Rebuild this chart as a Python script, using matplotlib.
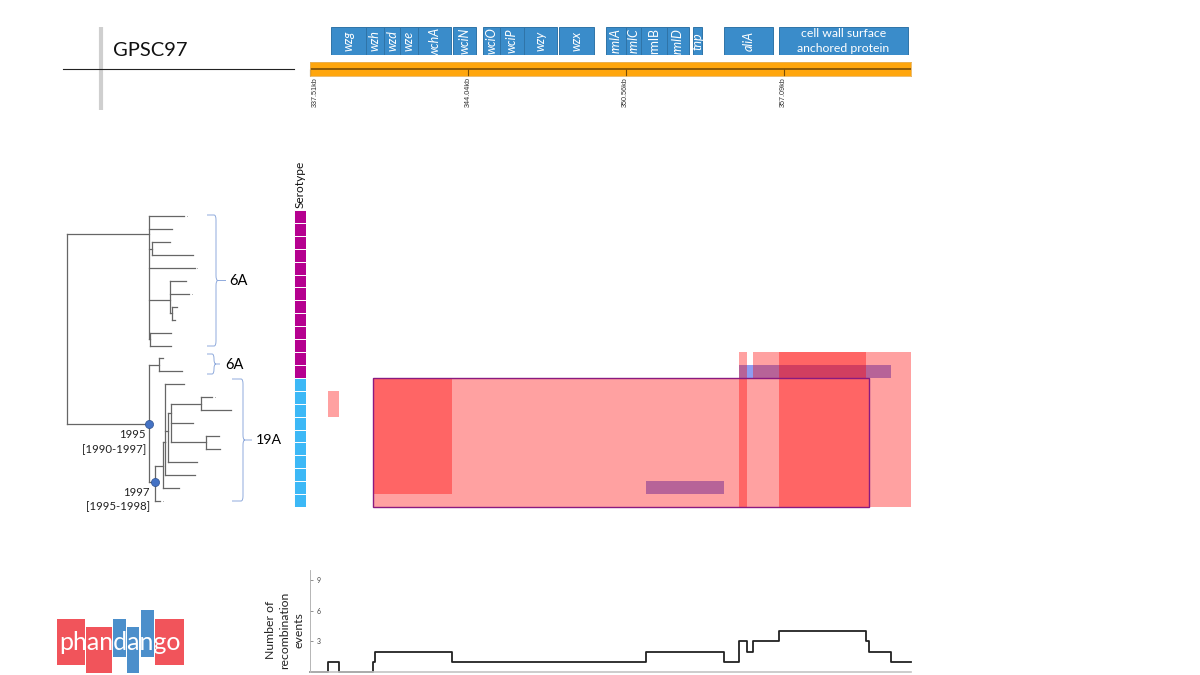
"""GPSC97: arbol, bloques de recombinacion y region cps (estilo phandango)."""

import matplotlib
matplotlib.use("Agg")
import matplotlib.pyplot as plt
from matplotlib.patches import PathPatch, Rectangle
from matplotlib.path import Path
from matplotlib.transforms import ScaledTranslation

plt.rcParams["font.family"] = ["Lato", "DejaVu Sans"]

W, H = 1200, 675
KB_MIN, KB_MAX = 337.51, 362.35

# genes: nombre, inicio, fin (kb)
GENE_NAMES = ["wzg", "wzh", "wzd", "wze", "wchA", "wciN", "wciO", "wciP", "wzy", "wzx",
              "rmlA", "rmlC", "rmlB", "rmlD", "tnp", "aliA"]
GENE_START = [338.38, 339.82, 340.57, 341.23, 341.97, 343.42, 344.66, 345.36, 346.35, 347.80,
              349.74, 350.57, 351.19, 352.26, 353.34, 354.62]
GENE_END = [339.82, 340.57, 341.23, 341.97, 343.34, 344.39, 345.36, 346.35, 347.72, 349.25,
            350.57, 351.19, 352.26, 353.17, 353.71, 356.65]
SURFACE_GENE = (356.89, 362.23)
GENOME_TICKS = [337.51, 344.04, 350.56, 357.09]
GENOME_LABELS = ["337.51kb", "344.04kb", "350.56kb", "357.09kb"]

# serotipo por fila del arbol
SEROTYPE = ["6A"] * 13 + ["19A"] * 10

# bloques de recombinacion: kb inicio, kb fin, fila inicio, fila fin
RED_BLOCKS = [
    (338.27, 338.71, 14, 16),
    (340.13, 360.61, 13, 23),
    (340.13, 343.38, 13, 22),
    (355.24, 355.57, 11, 23),
    (355.82, 362.35, 11, 13),
    (356.89, 360.49, 11, 13),
    (356.89, 360.61, 13, 23),
    (360.61, 362.35, 13, 23),
]
BLUE_BLOCKS = [
    (355.24, 361.52, 12, 13),
    (351.40, 354.62, 21, 22),
]
OUTLINE_BLOCK = (340.13, 360.61, 13, 23)

# numero de eventos de recombinacion (escalones)
EVENT_KB = [337.51, 338.27, 338.71, 340.13, 340.20, 343.38, 351.40, 354.62, 355.24,
            355.57, 355.82, 356.89, 360.49, 360.61, 361.52, 362.35]
EVENT_N = [0, 1, 0, 1, 2, 1, 2, 1, 3, 2, 3, 4, 3, 2, 1, 1]

# arbol: horizontales (x0, x1, fila) y verticales (x, fila0, fila1)
TREE_H = [
    (66.5, 149, 1.35), (66.5, 149, 16.1),
    (149, 184, 0), (149, 172, 1), (149, 152, 2.5), (152, 170, 2), (152, 192.5, 3),
    (149, 195, 4), (149, 170, 6.5), (170, 186, 5), (170, 189, 6), (170, 172, 7.5),
    (172, 177, 7), (172, 175, 8), (149, 150, 9.5), (150, 171, 9), (150, 171, 10),
    (149, 159, 11.5), (159, 163, 11), (159, 182, 12),
    (149, 155, 20.6), (155, 163, 19.3), (155, 160, 22),
    (163, 164.5, 17.5), (164.5, 184, 13), (164.5, 168, 16.6), (168, 171, 15.2),
    (171, 201, 14.5), (201, 212, 14), (201, 231, 15), (171, 192.5, 16),
    (171, 206, 17.5), (206, 219, 17), (206, 220, 18),
    (168, 197, 19), (165, 195, 20), (163, 179, 21),
]
TREE_V = [
    (66.5, 1.35, 16.1), (149, 0, 9.5), (152, 2, 3), (170, 5, 7.5), (172, 7, 8),
    (150, 9, 10), (149, 11.5, 20.6), (159, 11, 12), (155.3, 19.3, 22),
    (163, 17.5, 21), (164.5, 13, 17.5), (165, 17.5, 20), (168, 15.2, 19), (171, 14.5, 17.5),
    (201, 14, 15), (206, 17, 18),
]
TREE_NODES_X = [149, 155]
TREE_NODES_ROW = [16.1, 20.6]
TREE_DOTS_X = [187, 197, 192, 215, 163]
TREE_DOTS_ROW = [0, 4, 6, 14, 22]

GEN_BLUE, GEN_EDGE = "#3a8cca", "#2f74a8"
NARANJA, MARRON = "#ffa60d", "#7a4d05"
ROJO, AZUL = "#ff0000", "#1e3ce6"
SERO_COL = {"6A": "#b5008f", "19A": "#3cb8f6"}
LLAVE = "#8faadc"
GRIS = "#666666"


def panel(fig, left, top, right, bottom):
    ax = fig.add_axes([left / W, 1 - bottom / H, (right - left) / W, (bottom - top) / H])
    ax.patch.set_alpha(0)
    return ax


def llave(ax, x0, x1, tip, y0, y1):
    ym = (y0 + y1) / 2
    d = 5
    verts = [(x0, y0), (x1 - 2, y0), (x1, y0), (x1, y0 + d), (x1, ym - d), (x1, ym), (x1 + 2, ym), (tip, ym),
             (x1 + 2, ym), (x1, ym), (x1, ym + d), (x1, y1 - d), (x1, y1), (x1 - 2, y1), (x0, y1)]
    codes = [Path.MOVETO, Path.LINETO, Path.CURVE3, Path.CURVE3, Path.LINETO, Path.CURVE3, Path.CURVE3, Path.LINETO,
             Path.MOVETO, Path.CURVE3, Path.CURVE3, Path.LINETO, Path.CURVE3, Path.CURVE3, Path.LINETO]
    ax.add_patch(PathPatch(Path(verts, codes), fill=False, ec=LLAVE, lw=0.7))


def dibuja_fondo(fig):
    ax = panel(fig, 0, 0, W, H)
    ax.set_xlim(0, W)
    ax.set_ylim(H, 0)
    ax.axis("off")

    ax.plot([101, 101], [27, 110], color="#cfcfcf", lw=3, solid_capstyle="butt")
    ax.plot([63, 294], [69, 69], color="#222222", lw=0.8)
    ax.text(113, 51, "GPSC97", fontsize=14.5, va="center", color="#111111")

    llave(ax, 207, 216, 226, 215, 346)
    llave(ax, 207, 214, 220, 354, 374)
    llave(ax, 232, 243, 252, 379, 501)
    ax.text(229, 281, "6A", fontsize=10.5, va="center")
    ax.text(225, 365, "6A", fontsize=10.5, va="center")
    ax.text(256, 440, "19A", fontsize=10.2, va="center")

    ax.text(146, 435, "1995", fontsize=8.2, ha="right", va="center", color="#222222")
    ax.text(146, 450, "[1990-1997]", fontsize=8.2, ha="right", va="center", color="#222222")
    ax.text(150, 493, "1997", fontsize=8.2, ha="right", va="center", color="#222222")
    ax.text(150, 507, "[1995-1998]", fontsize=8.2, ha="right", va="center", color="#222222")

    ax.text(300, 208, "Serotype", fontsize=8.6, rotation=90, ha="center", va="bottom", color="#111111")
    ax.text(285, 630, "Number of\nrecombination\nevents", fontsize=8.8, rotation=90,
            ha="center", va="center", linespacing=1.35, color="#222222")

    # logo
    for x0, x1, y0, y1, c in [(56.7, 85, 618.7, 665, "#f1545b"), (85.7, 112, 627, 672.7, "#f1545b"),
                              (113, 126, 618.7, 656.7, "#4c8fcb"), (127, 139, 627, 672.7, "#4c8fcb"),
                              (140.7, 154, 610, 656.7, "#4c8fcb"), (155, 184, 618.7, 665, "#f1545b")]:
        ax.add_patch(Rectangle((x0, y0), x1 - x0, y1 - y0, fc=c, ec="none"))
    ax.text(120, 642, "phandango", fontsize=18, color="white", ha="center", va="center")


def dibuja_genes(fig):
    ax = panel(fig, 310, 27, 911, 55)
    ax.set_xlim(KB_MIN, KB_MAX)
    ax.set_ylim(0, 1)
    ax.axis("off")
    ax.barh(0.5, [e - s for s, e in zip(GENE_START, GENE_END)], left=GENE_START, height=1,
            color=GEN_BLUE, edgecolor=GEN_EDGE, linewidth=0.7)
    for nombre, s, e in zip(GENE_NAMES, GENE_START, GENE_END):
        ax.text((s + e) / 2, 0.5, nombre, color="white", rotation=90, ha="center", va="center",
                fontsize=9, style="normal" if nombre == "rmlB" else "italic")
    s, e = SURFACE_GENE
    ax.barh(0.5, e - s, left=s, height=1, color=GEN_BLUE, edgecolor=GEN_EDGE, linewidth=0.7)
    ax.text((s + e) / 2, 0.5, "cell wall surface\nanchored protein", color="white", ha="center",
            va="center", fontsize=8.8, linespacing=1.4)


def dibuja_genoma(fig):
    ax = panel(fig, 310, 62, 911, 76)
    ax.set_xlim(KB_MIN, KB_MAX)
    ax.set_ylim(0, 1)
    ax.set_facecolor(NARANJA)
    ax.patch.set_alpha(1)
    for sp in ("top", "left", "right", "bottom"):
        ax.spines[sp].set_color("#e9b25a")
        ax.spines[sp].set_linewidth(0.6)
    ax.axhline(0.5, color=MARRON, lw=1.2)
    ax.set_yticks([])
    ax.set_xticks(GENOME_TICKS, GENOME_LABELS, rotation=90, fontsize=5.2, family="Liberation Sans", color="#333333")
    ax.tick_params(axis="x", direction="in", length=4.8, width=0.8, color=MARRON, pad=1)
    # la primera etiqueta va corrida a la derecha
    primera = ax.get_xticklabels()[0]
    primera.set_transform(primera.get_transform() + ScaledTranslation(3.5 / 72, 0, fig.dpi_scale_trans))


def dibuja_serotipo(fig):
    ax = panel(fig, 294, 210, 306, 507)
    ax.set_xlim(0, 1)
    ax.set_ylim(len(SEROTYPE), 0)
    ax.axis("off")
    filas = [i + 0.5 for i in range(len(SEROTYPE))]
    ax.barh(filas, 1, height=1, color=[SERO_COL[s] for s in SEROTYPE], edgecolor="white", linewidth=0.7)


def dibuja_bloques(fig):
    ax = panel(fig, 310, 210, 911, 507)
    ax.set_xlim(KB_MIN, KB_MAX)
    ax.set_ylim(23, 0)
    ax.axis("off")
    for s, e, f0, f1 in BLUE_BLOCKS:
        ax.add_patch(Rectangle((s, f0), e - s, f1 - f0, fc=AZUL, alpha=0.5, ec="none"))
    for s, e, f0, f1 in RED_BLOCKS:
        ax.add_patch(Rectangle((s, f0), e - s, f1 - f0, fc=ROJO, alpha=0.37, ec="none", clip_on=False))
    s, e, f0, f1 = OUTLINE_BLOCK
    ax.add_patch(Rectangle((s, f0), e - s, f1 - f0, fill=False, ec="#8a1a80", lw=1.0, clip_on=False))


def dibuja_arbol(fig):
    ax = panel(fig, 60, 210, 290, 507)
    ax.set_xlim(60, 290)
    ax.set_ylim(22.5, -0.5)
    ax.axis("off")
    for x0, x1, f in TREE_H:
        ax.plot([x0, x1], [f, f], color=GRIS, lw=0.9, solid_capstyle="projecting")
    for x, f0, f1 in TREE_V:
        ax.plot([x, x], [f0, f1], color=GRIS, lw=0.9, solid_capstyle="projecting")
    ax.scatter(TREE_DOTS_X, TREE_DOTS_ROW, s=0.4, color="#aaaaaa", linewidths=0)
    ax.scatter(TREE_NODES_X, TREE_NODES_ROW, s=34, color="#4472c4", edgecolor="#2f528f", linewidths=0.5, zorder=5)


def dibuja_eventos(fig):
    ax = panel(fig, 310, 570, 911, 672)
    ax.set_xlim(KB_MIN, KB_MAX)
    ax.set_ylim(0, 10)
    ax.step(EVENT_KB, EVENT_N, where="post", color="#222222", lw=1.3, clip_on=False)
    for sp in ("top", "right"):
        ax.spines[sp].set_visible(False)
    ax.spines["left"].set_color("#aaaaaa")
    ax.spines["left"].set_linewidth(0.6)
    ax.spines["bottom"].set_color("#c4c4c4")
    ax.spines["bottom"].set_linewidth(1.2)
    ax.set_xticks([])
    ax.set_yticks([3, 6, 9])
    ax.tick_params(axis="y", direction="in", length=2.5, width=0.5, color="#666666", pad=-8,
                   labelsize=5, labelcolor="#444444")


def main():
    fig = plt.figure(figsize=(W / 100, H / 100), dpi=100, facecolor="white")
    dibuja_fondo(fig)
    dibuja_genes(fig)
    dibuja_genoma(fig)
    dibuja_serotipo(fig)
    dibuja_bloques(fig)
    dibuja_arbol(fig)
    dibuja_eventos(fig)
    fig.savefig("out.png", dpi=100)


if __name__ == "__main__":
    main()
